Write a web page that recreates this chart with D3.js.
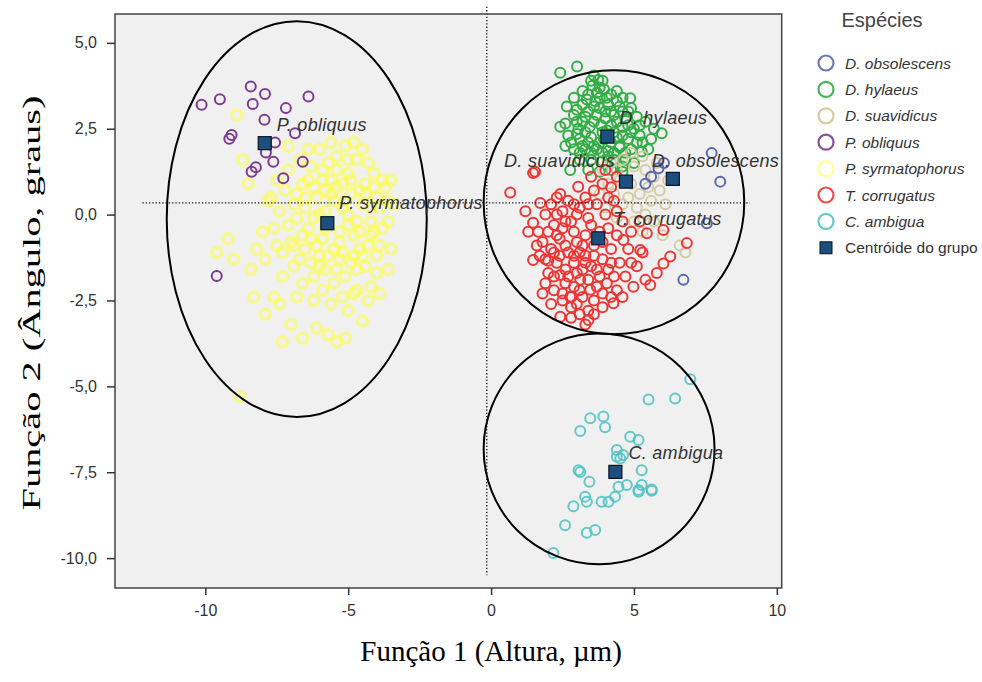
<!DOCTYPE html>
<html>
<head>
<meta charset="utf-8">
<script src="https://cdn.jsdelivr.net/npm/d3@7"></script>
<style>
  body { margin: 0; background: #fff; }
</style>
</head>
<body>
<script>
// valeurs (Função 1, Função 2)
const species = ['D. obsolescens', 'D. hylaeus', 'D. suavidicus', 'P. obliquus', 'P. syrmatophorus', 'T. corrugatus', 'C. ambigua']

const obsolescens = [[7.72,1.79],[8.02,0.96],[5.86,1.35],[6.05,1.5],[7.55,-0.25],[6.73,-1.9],[5.6,1.1],[5.4,0.9]]

const hylaeus = [[2.42,4.13],[3.01,4.31],[3.75,3.92],[3.55,3.75],[3.95,3.65],[3.4,3.5],[3.8,3.4],[4.2,3.5],[4.6,3.4],[4.87,3.39],
  [4.9,3.1],[4.5,3.15],[4.1,3.2],[3.6,3.15],[3.2,3.2],[2.65,3.15],[2.9,2.9],[3.3,2.85],[3.7,2.9],[4.3,2.9],
  [4.7,2.8],[5.1,2.85],[5.4,2.7],[5.0,2.5],[4.6,2.55],[4.2,2.6],[3.85,2.6],[3.45,2.55],[3.05,2.5],[2.42,2.56],
  [2.7,2.3],[3.1,2.2],[3.5,2.25],[3.95,2.2],[4.4,2.25],[4.8,2.2],[5.2,2.3],[5.97,2.37],[5.6,2.2],[5.5,1.9],
  [5.27,1.84],[4.9,1.9],[4.5,1.95],[4.1,1.85],[3.7,1.9],[3.3,1.9],[2.9,1.9],[2.6,2.0],[2.77,1.3],[3.1,1.6],
  [3.5,1.6],[3.9,1.55],[4.3,1.6],[4.7,1.6],[5.0,1.5],[3.4,1.3],[3.8,1.25],[4.2,1.3],[4.6,1.25],[3.2,3.6],
  [3.65,3.3],[4.0,3.0],[4.4,3.3],[4.5,2.0],[3.0,2.7],[3.9,2.4],[4.3,2.4],[3.6,2.0],[3.3,2.4],[4.0,2.8],
  [4.8,3.0],[5.3,2.1],[2.9,3.4],[3.5,3.9],[3.8,3.7],[4.1,1.7],[4.9,2.4],[3.2,2.0],[5.7,2.5],[4.6,1.4],
  [3.4,3.0],[3.8,3.1],[4.2,3.0],[4.6,3.0],[3.2,2.7],[3.6,2.7],[4.4,2.7],[4.8,2.6],[3.0,2.35],[3.4,2.1],
  [3.8,2.1],[4.2,2.1],[4.6,2.3],[5.1,2.1],[2.8,2.1],[3.1,1.8],[3.5,1.8],[3.9,1.8],[4.3,1.8],[4.7,1.8],
  [3.7,3.55],[4.05,3.4],[3.35,3.35],[5.2,2.6],[2.6,2.65],[3.0,3.05],[4.4,3.6],[3.9,3.9],[3.6,4.05],[4.05,2.45]]

const suavidicus = [[4.2,1.5],[4.6,1.6],[5.0,1.4],[5.4,1.3],[5.7,1.1],[5.5,0.8],[5.2,0.6],[4.9,0.9],[4.5,1.0],[4.1,0.9],
  [3.9,1.3],[4.4,1.3],[4.8,0.5],[5.1,0.2],[5.6,0.4],[5.9,0.7],[6.1,0.3],[5.4,0.0],[5.0,-0.2],[4.6,0.3],
  [4.3,0.6],[3.8,0.6],[4.9,1.8],[5.3,1.7],[5.8,1.5],[6.2,1.0],[4.0,0.2],[5.7,-0.2],[6.6,-0.9],[6.0,-0.6],
  [5.3,-0.5],[4.4,-0.1],[6.8,-1.1]]

const obliquus = [[-10.13,3.2],[-9.49,3.36],[-8.41,3.73],[-7.91,3.51],[-8.34,3.22],[-6.39,3.44],[-7.18,3.1],[-7.93,2.76],
  [-6.86,2.37],[-9.08,2.32],[-9.16,2.21],[-7.56,2.1],[-7.88,1.81],[-7.62,1.54],[-8.23,1.38],[-8.38,1.25],
  [-6.59,1.54],[-7.27,1.06],[-9.6,-1.79]]

const syrmatophorus = [[-5.7,-0.3],[-5.2,0.2],[-6.1,0.5],[-4.8,-0.6],[-5.5,-1.0],[-6.4,-0.4],[-4.5,0.3],[-5.9,1.0],[-5.0,1.2],[-6.6,0.9],
  [-4.2,-0.2],[-5.3,-0.5],[-6.0,-1.2],[-4.9,-1.4],[-6.8,-0.1],[-5.6,0.6],[-4.4,0.9],[-6.3,1.4],[-5.4,1.7],[-4.7,1.6],
  [-6.9,0.3],[-7.2,0.7],[-4.0,0.5],[-3.8,-0.4],[-4.6,-1.0],[-5.1,-1.8],[-5.8,-1.6],[-6.5,-1.0],[-7.0,-0.8],[-7.4,0.1],
  [-6.2,-0.1],[-5.0,0.0],[-4.3,-0.9],[-3.9,0.2],[-4.1,1.2],[-5.2,0.9],[-5.8,0.1],[-6.7,1.6],[-6.0,1.9],[-5.1,2.0],
  [-4.5,1.9],[-7.5,1.0],[-7.6,-0.4],[-3.6,-0.2],[-3.7,0.8],[-4.4,-1.5],[-5.5,-2.0],[-6.2,-1.8],[-6.9,-1.5],[-4.8,-2.3],
  [-4.0,-1.2],[-3.5,-1.0],[-5.4,1.3],[-6.5,0.2],[-5.9,-0.7],[-4.7,-0.2],[-5.3,-1.3],[-6.3,-0.7],[-4.9,0.6],[-5.7,1.5],
  [-7.8,0.4],[-8.0,-0.5],[-7.3,-1.8],[-7.9,-1.3],[-9.6,-1.1],[-9.0,-1.3],[-8.2,-1.0],[-7.5,-0.9],[-8.5,0.9],[-8.7,1.6],
  [-8.9,2.9],[-7.1,2.0],[-6.8,-2.4],[-6.2,-2.5],[-5.6,-2.6],[-4.7,-2.2],[-4.2,-2.1],[-3.9,-2.3],[-7.6,-2.4],[-8.3,-2.4],
  [-7.4,-2.6],[-6.6,-3.6],[-5.7,-3.5],[-5.4,-3.7],[-7.3,-3.7],[-5.1,-3.6],[-8.8,-5.3],[-3.4,0.3],[-3.5,1.0],[-4.2,-0.6],
  [-6.6,-2.0],[-5.0,-2.8],[-4.5,-3.1],[-7.0,-3.2],[-6.1,-3.3],[-7.9,-2.9],[-9.2,-0.7],[-8.4,-1.6],
  [-5.5,0.4],[-5.0,-0.3],[-4.6,0.7],[-6.0,0.0],[-5.3,-0.8],[-4.6,-0.5],[-6.2,0.8],[-5.6,1.0],[-4.2,0.2],[-4.9,1.0],
  [-5.8,-0.4],[-6.6,-0.6],[-5.2,-1.1],[-4.5,-1.2],[-4.1,-0.5],[-3.9,-0.9],[-5.7,-1.2],[-6.1,-0.9],[-6.8,0.6],[-7.1,-0.3],
  [-5.4,0.8],[-4.3,1.5],[-5.0,1.6],[-5.9,1.3],[-6.4,1.0],[-3.8,1.0],[-4.0,-1.7],[-4.7,-1.6],[-5.4,-1.6],[-6.0,-1.5],
  [-6.7,-1.3],[-7.3,-1.1],[-7.7,0.5],[-7.1,1.3],[-6.4,1.9],[-5.6,2.1],[-4.8,2.1],[-4.3,-2.5],[-5.2,-2.4],[-5.9,-2.2],
  [-3.6,-1.6],[-3.6,0.4],[-4.4,0.6],[-5.1,0.4],[-5.8,0.7],[-6.5,0.5],[-6.9,-0.9],[-6.3,-1.4],[-4.8,-1.2],[-4.1,0.8]]

const corrugatus = [[0.67,0.64],[1.47,1.21],[1.54,1.25],[2.42,0.6],[3.05,0.81],[1.47,-1.32],[2.0,-1.34],[2.42,-1.76],[2.77,-2.39],[2.42,-2.97],
  [3.41,-3.07],[4.28,-2.58],[4.98,-2.1],[5.57,-2.05],[6.03,-1.42],[6.85,-0.83],[6.27,-1.22],[5.45,-0.54],[6.03,-0.45],[5.22,-1.03],
  [4.63,-0.74],[3.47,-2.19],[4.05,-2.0],[3.12,-1.9],[1.47,-0.24],[1.72,0.34],[1.65,-0.5],
  [1.9,0.0],[2.2,-0.3],[2.5,0.1],[2.8,-0.2],[3.1,0.2],[3.4,-0.1],[3.7,0.3],[4.0,0.0],[4.3,0.4],[3.6,0.7],[3.9,0.9],[4.2,0.8],
  [3.3,0.5],[2.7,0.4],[2.1,0.3],[1.8,-0.8],[2.1,-1.0],[2.4,-0.7],[2.7,-1.1],[3.0,-0.8],[3.3,-1.2],[3.6,-0.9],[3.9,-1.3],
  [4.2,-1.0],[4.5,-1.4],[4.8,-1.0],[5.1,-1.5],[5.4,-1.9],[4.7,-1.8],[4.4,-2.2],[4.1,-1.6],[3.8,-1.8],[3.5,-1.5],
  [3.2,-1.6],[2.9,-1.4],[2.6,-1.6],[2.3,-1.4],[2.9,-2.1],[3.2,-2.4],[3.6,-2.5],[3.9,-2.3],[2.6,-2.0],[2.2,-2.2],
  [3.0,-2.6],[3.4,-2.8],[2.9,-0.5],[3.3,-0.6],[2.5,-0.4],[3.8,-0.5],[4.1,-0.4],[4.6,-0.2],[4.9,-0.5],[5.2,-0.2],
  [4.4,0.1],[2.0,-1.7],[1.7,-1.2],[2.3,0.0],[3.5,1.1],[4.0,1.3],[4.4,1.1],[2.8,-2.7],[3.7,-2.1],[3.1,-1.1],
  [2.5,-2.5],[4.3,-1.8],[1.9,-2.0],[3.0,0.0],[4.6,-2.4],[3.3,-3.2],
  [2.3,-0.6],[2.6,-0.9],[2.9,-1.2],[3.2,-0.9],[3.5,-0.3],[3.4,-1.9],[3.1,-2.2],[2.7,-1.8],[2.4,-1.2],[2.0,-0.5],
  [1.9,-1.3],[2.2,-1.8],[2.5,-2.3],[2.8,-2.4],[3.6,-1.2],[3.9,-0.8],[4.2,-1.4],[4.4,-0.6],[3.7,-1.6],[3.0,-1.7],
  [2.6,-0.2],[2.3,0.5],[2.9,0.3],[3.4,0.3],[4.1,0.5],[1.6,-0.9],[1.3,-0.5],[1.2,0.1],[2.8,-3.0],[3.1,-2.9],
  [3.6,-2.9],[3.9,-2.7],[4.2,-2.4],[4.9,-1.4],[5.3,-1.1],[5.8,-1.7],[2.1,-2.6],[1.8,-2.3],[2.2,-1.1],[3.3,-1.4]]

const ambigua = [[6.97,-4.79],[5.51,-5.38],[6.44,-5.35],[3.47,-5.93],[3.93,-5.88],[3.99,-6.19],[3.12,-6.3],[4.87,-6.47],[5.16,-6.56],[4.4,-6.85],
  [4.52,-7.1],[4.62,-7.0],[5.27,-7.44],[3.12,-7.49],[3.44,-7.78],[4.46,-7.92],[4.75,-7.87],[5.16,-8.02],[5.62,-8.04],[3.29,-8.21],
  [3.35,-8.36],[2.88,-8.49],[3.87,-8.36],[4.11,-8.36],[4.34,-8.21],[2.59,-9.04],[3.35,-9.26],[3.64,-9.18],[2.18,-9.85],[3.06,-7.44],
  [4.4,-7.05],[5.27,-7.87],[5.16,-8.07],[5.62,-8.0]]

// centroides des groupes
const centroids = [[6.36,1.04],[4.07,2.27],[4.72,0.96],[-7.92,2.08],[-5.73,-0.25],[3.75,-0.69],[4.35,-7.49]]

// ellipses: centre x, centre y, rayon x, rayon y
const ellipses = [[-6.8,-0.13,4.55,5.76],[4.3,0.36,4.56,3.84],[3.78,-6.82,4.04,3.36]]

// lignes pointillees: [x1, y1, x2, y2]
const refLines = [[-0.15,6.05,-0.15,-10.5],[-12.2,0.34,9.06,0.34]]

const xTicks = [-10, -5, 0, 5, 10]
const yTicks = [-10, -7.5, -5, -2.5, 0, 2.5, 5]

const WIDTH = 982
const HEIGHT = 682
const LEFT = 115, RIGHT = 781.7, TOP = 14, BOTTOM = 588

const COLORS = ['#5a68ad', '#33ad45', '#cfc79a', '#7e3b94', '#ffff30', '#ee3535', '#52c4c4']
const OPACITY = [1, 1, 0.9, 1, 0.5, 1, 0.9]
// decalage des etiquettes par rapport au centroide (px)
const LABEL_OFF = [[-21, -12, 'start'], [12, -13, 'start'], [-11, -15, 'end'], [12, -12, 'start'], [12, -14, 'start'], [15, -13, 'start'], [13, -13, 'start']]

const groups = [obsolescens, hylaeus, suavidicus, obliquus, syrmatophorus, corrugatus, ambigua]
const drawOrder = [4, 1, 2, 5, 0, 3, 6]

const svg = d3.select('body').append('svg').attr('width', WIDTH).attr('height', HEIGHT)

const x = d3.scaleLinear().domain([-13.16, 10.17]).range([LEFT, RIGHT])
const y = d3.scaleLinear().domain([-10.87, 5.84]).range([BOTTOM, TOP])

svg.append('rect')
  .attr('x', LEFT).attr('y', TOP)
  .attr('width', RIGHT - LEFT).attr('height', BOTTOM - TOP)
  .attr('fill', '#f0f0f0')

// points
drawOrder.forEach(g => {
  svg.append('g').selectAll('circle')
    .data(groups[g])
    .enter()
    .append('circle')
    .attr('cx', d => x(d[0]))
    .attr('cy', d => y(d[1]))
    .attr('r', 5)
    .attr('fill', 'none')
    .attr('stroke', COLORS[g])
    .attr('stroke-opacity', OPACITY[g])
    .attr('stroke-width', g === 4 ? 3.5 : 2)
})

// pointilles
svg.append('g').selectAll('line')
  .data(refLines)
  .enter()
  .append('line')
  .attr('x1', d => x(d[0])).attr('y1', d => y(d[1]))
  .attr('x2', d => x(d[2])).attr('y2', d => y(d[3]))
  .attr('stroke', '#111')
  .attr('stroke-width', 1.3)
  .attr('stroke-dasharray', '1.3,2')

svg.append('g').selectAll('ellipse')
  .data(ellipses)
  .enter()
  .append('ellipse')
  .attr('cx', d => x(d[0]))
  .attr('cy', d => y(d[1]))
  .attr('rx', d => x(d[2]) - x(0))
  .attr('ry', d => y(0) - y(d[3]))
  .attr('fill', 'none')
  .attr('stroke', '#000')
  .attr('stroke-width', 2)

// centroides
svg.append('g').selectAll('rect')
  .data(centroids)
  .enter()
  .append('rect')
  .attr('x', d => x(d[0]) - 6.5)
  .attr('y', d => y(d[1]) - 6.5)
  .attr('width', 13).attr('height', 13)
  .attr('fill', '#1c4f7e')
  .attr('stroke', '#0b1622')
  .attr('stroke-width', 1.2)

svg.append('g').selectAll('text')
  .data(centroids)
  .enter()
  .append('text')
  .attr('x', (d, i) => x(d[0]) + LABEL_OFF[i][0])
  .attr('y', (d, i) => y(d[1]) + LABEL_OFF[i][1])
  .attr('text-anchor', (d, i) => LABEL_OFF[i][2])
  .attr('font-family', 'Liberation Sans, Arial, sans-serif')
  .attr('font-style', 'italic')
  .attr('font-size', 18)
  .attr('letter-spacing', 0.3)
  .attr('fill', '#333')
  .text((d, i) => species[i])

// cadre
svg.append('rect')
  .attr('x', LEFT).attr('y', TOP)
  .attr('width', RIGHT - LEFT).attr('height', BOTTOM - TOP)
  .attr('fill', 'none')
  .attr('stroke', '#444')
  .attr('stroke-width', 1.5)

const fmt = d => d3.format('.1f')(d).replace('.', ',').replace('−', '-')

const axisX = svg.append('g')
  .attr('transform', `translate(0, ${BOTTOM})`)
  .call(d3.axisBottom(x).tickValues(xTicks).tickFormat(d => String(d)).tickSize(7).tickPadding(10))
const axisY = svg.append('g')
  .attr('transform', `translate(${LEFT}, 0)`)
  .call(d3.axisLeft(y).tickValues(yTicks).tickFormat(fmt).tickSize(8).tickPadding(10))
;[axisX, axisY].forEach(a => {
  a.select('.domain').remove()
  a.selectAll('line').attr('stroke', '#333').attr('stroke-width', 1.5)
  a.selectAll('text').attr('font-family', 'Liberation Sans, Arial, sans-serif').attr('font-size', 16).attr('fill', '#333')
})

svg.append('text')
  .attr('x', x(0))
  .attr('y', 661)
  .attr('text-anchor', 'middle')
  .attr('font-family', 'Liberation Serif, Times New Roman, serif')
  .attr('font-size', 29)
  .text('Função 1 (Altura, µm)')

svg.append('text')
  .attr('transform', 'translate(40, 303) rotate(-90)')
  .attr('text-anchor', 'middle')
  .attr('font-family', 'Liberation Serif, Times New Roman, serif')
  .attr('font-size', 26)
  .attr('textLength', 415)
  .attr('lengthAdjust', 'spacingAndGlyphs')
  .text('Função 2 (Ângulo, graus)')

// legende
const legend = svg.append('g')
legend.append('text')
  .attr('x', 882).attr('y', 27)
  .attr('text-anchor', 'middle')
  .attr('font-family', 'Liberation Sans, Arial, sans-serif')
  .attr('font-size', 20)
  .attr('fill', '#444')
  .text('Espécies')

const items = legend.selectAll('g.item')
  .data(species.concat(['Centróide do grupo']))
  .enter()
  .append('g')
  .attr('transform', (d, i) => `translate(826, ${63 + i * 26.4})`)

items.filter((d, i) => i < species.length)
  .append('circle')
  .attr('r', 7.5)
  .attr('fill', 'none')
  .attr('stroke', (d, i) => COLORS[i])
  .attr('stroke-opacity', (d, i) => i === 4 ? 0.5 : 0.9)
  .attr('stroke-width', 2.2)

items.filter((d, i) => i === species.length)
  .append('rect')
  .attr('x', -6).attr('y', -6).attr('width', 12).attr('height', 12)
  .attr('fill', '#1c4f7e').attr('stroke', '#0b1622')

items.append('text')
  .attr('x', 19).attr('y', 5.5)
  .attr('font-family', 'Liberation Sans, Arial, sans-serif')
  .attr('font-size', 15.5)
  .attr('font-style', (d, i) => i < species.length ? 'italic' : 'normal')
  .attr('fill', '#333')
  .text(d => d)
</script>
</body>
</html>
